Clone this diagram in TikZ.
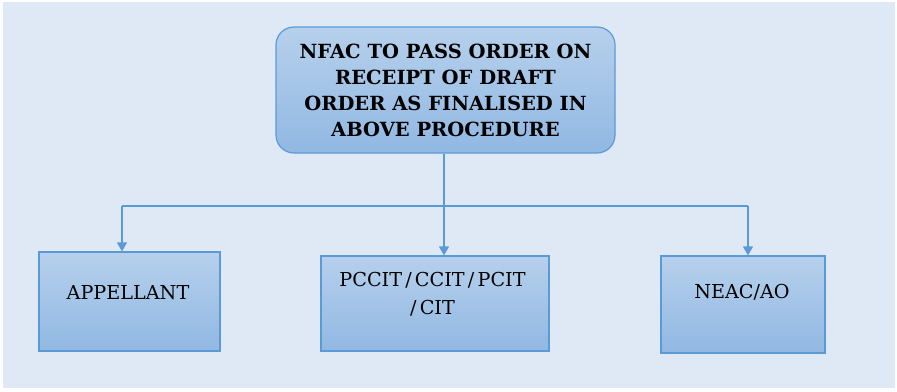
\documentclass[tikz,border=0pt]{standalone}
\usepackage{fontspec}
\setmainfont{DejaVu Serif}
\usetikzlibrary{arrows.meta}
\definecolor{bgblue}{HTML}{DEE9F5}
\definecolor{boxtop}{HTML}{B6D0EC}
\definecolor{boxbot}{HTML}{91B8E3}
\definecolor{edge}{HTML}{5B9BD5}
\begin{document}
\begin{tikzpicture}[x=1pt,y=-1pt,
  topbox/.style={draw=edge, line width=1.2pt, rounded corners=18pt, top color=boxtop, bottom color=boxbot, align=center, inner sep=0pt,
    font=\fontsize{19.5}{26}\selectfont\bfseries},
  leafbox/.style={draw=edge, line width=1.2pt, top color=boxtop, bottom color=boxbot, inner sep=0pt},
  leaftext/.style={align=center, inner sep=0pt, font=\fontsize{19.2}{28}\selectfont},
  conn/.style={draw=edge, line width=1.3pt},
  arr/.style={conn, -{Triangle[width=10pt,length=9pt]}}]
\useasboundingbox (0,0) rectangle (897,391);
\fill[white] (0,0) rectangle (897,391);
\fill[bgblue] (3,2) rectangle (895,388);

\node[topbox, minimum width=339pt, minimum height=126pt] (top) at (445.5,90) {NFAC TO PASS ORDER ON\\RECEIPT OF DRAFT\\ORDER AS FINALISED IN\\ABOVE PROCEDURE};

\node[leafbox, minimum width=181pt, minimum height=99pt] (app) at (129.5,301.5) {};
\node[leafbox, minimum width=228pt, minimum height=95pt] (mid) at (435,303.5) {};
\node[leafbox, minimum width=164pt, minimum height=97pt] (neac) at (743,304.5) {};

\node[leaftext] (appt) at (128,293) {APPELLANT};
\node[leaftext] (midt) at (432.5,294) {PCCIT\,/\,CCIT\,/\,PCIT\\/\,CIT};
\node[leaftext] (neact) at (742,292) {NEAC/AO};

\coordinate (jm) at (444,206);
\coordinate (jl) at (122,206);
\coordinate (jr) at (748,206);

\draw[conn] (top.south -| jm) -- (jm);
\draw[conn] (jl) -- (jr);
\draw[arr] (jm) -- (jm |- mid.north);
\draw[arr] (jl) -- (jl |- app.north);
\draw[arr] (jr) -- (jr |- neac.north);
\end{tikzpicture}
\end{document}
